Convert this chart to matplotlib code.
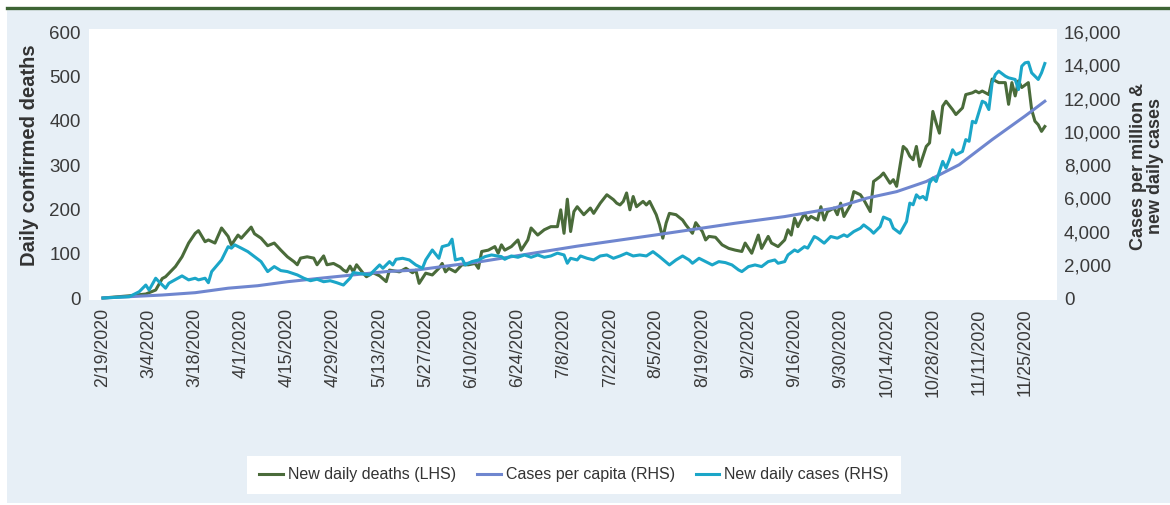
import datetime as dt
import matplotlib
matplotlib.use("Agg")
import matplotlib.pyplot as plt
from matplotlib.patches import Rectangle
from matplotlib.lines import Line2D
from matplotlib.ticker import FuncFormatter

plt.rcParams['font.family'] = ['Liberation Sans', 'DejaVu Sans']

start = dt.date(2020, 2, 19)

# days since 2/19/2020 and values
death_days = [0, 8, 13, 16, 18, 19, 22, 24, 26, 28, 29, 31, 32, 34, 36, 38, 39, 41, 42, 45,
              46, 48, 50, 52, 54, 56, 58, 59, 60, 62, 64, 65, 67, 68, 70, 72, 73, 74, 75, 76,
              77, 79, 80, 82, 84, 86, 87, 90, 92, 94, 95, 96, 98, 100, 102, 103, 104, 105, 107, 109,
              111, 113, 114, 115, 117, 119, 120, 121, 122, 124, 126, 127, 129, 130, 132, 134, 136, 138, 139, 140,
              141, 142, 143, 144, 146, 148, 149, 151, 153, 155, 156, 157, 158, 159, 160, 161, 162, 164, 165, 166,
              168, 169, 170, 171, 172, 174, 176, 177, 179, 180, 182, 183, 184, 186, 188, 190, 192, 194, 195, 197,
              199, 200, 202, 203, 205, 207, 208, 209, 210, 211, 213, 214, 215, 217, 218, 219, 220, 222, 223, 224,
              225, 227, 228, 230, 231, 233, 234, 236, 237, 239, 240, 241, 243, 244, 245, 246, 247, 248, 250, 251,
              252, 253, 254, 255, 256, 258, 259, 261, 262, 264, 265, 266, 267, 269, 270, 272, 274, 275, 276, 277,
              278, 279, 281, 282, 283, 284, 285, 286]
deaths = [0, 5, 9, 18, 44, 48, 71, 93, 124, 146, 152, 127, 131, 124, 158, 139, 120, 142, 135, 160,
          145, 135, 118, 124, 108, 93, 82, 75, 90, 93, 90, 75, 95, 75, 78, 70, 63, 59, 72, 59,
          75, 56, 48, 57, 50, 37, 63, 59, 67, 57, 63, 33, 56, 52, 67, 78, 59, 67, 59, 75,
          75, 78, 67, 105, 108, 116, 101, 120, 108, 116, 131, 108, 131, 158, 142, 154, 161, 161, 199, 146,
          223, 150, 195, 206, 188, 203, 191, 214, 233, 222, 214, 210, 218, 237, 199, 229, 206, 218, 210, 218,
          188, 165, 135, 169, 191, 188, 176, 165, 146, 170, 150, 131, 139, 137, 120, 112, 108, 105, 124, 101,
          142, 112, 139, 124, 116, 131, 154, 142, 180, 161, 191, 176, 184, 176, 206, 176, 195, 203, 188, 214,
          184, 210, 240, 233, 222, 195, 263, 274, 282, 259, 267, 252, 342, 335, 320, 312, 342, 297, 342, 350,
          421, 395, 372, 433, 444, 425, 414, 429, 459, 463, 467, 463, 467, 459, 494, 486, 486, 437, 486, 456,
          490, 475, 486, 425, 399, 391, 376, 387]

case_days = [0, 8, 11, 13, 14, 16, 17, 19, 20, 24, 26, 28, 29, 31, 32, 33, 36, 38, 39, 40,
             42, 44, 46, 48, 50, 52, 54, 56, 59, 61, 63, 65, 67, 69, 71, 73, 75, 76, 79, 81,
             83, 84, 85, 87, 88, 89, 91, 93, 95, 97, 98, 100, 102, 103, 105, 106, 107, 109, 110, 112,
             114, 116, 118, 121, 122, 124, 126, 128, 130, 132, 134, 136, 138, 140, 141, 142, 144, 145, 147, 149,
             151, 153, 155, 157, 159, 161, 163, 165, 167, 169, 172, 174, 176, 178, 179, 181, 183, 185, 187, 189,
             191, 193, 194, 196, 198, 200, 202, 204, 205, 207, 208, 210, 211, 213, 214, 216, 217, 219, 221, 223,
             225, 226, 228, 230, 231, 233, 234, 236, 237, 239, 240, 242, 244, 245, 246, 247, 248, 249, 250, 251,
             252, 253, 255, 256, 257, 258, 259, 261, 262, 263, 264, 265, 267, 268, 269, 270, 271, 272, 274, 275,
             277, 278, 279, 280, 281, 282, 284, 285, 286]
new_cases = [0, 80, 380, 780, 480, 1190, 980, 590, 890, 1330, 1090, 1190, 1090, 1190, 920, 1590, 2290, 3090, 3000, 3200,
             3000, 2790, 2490, 2190, 1590, 1890, 1650, 1590, 1390, 1190, 1040, 1130, 980, 1040, 920, 780, 1190, 1530, 1450, 1390,
             1790, 1990, 1790, 2190, 1990, 2330, 2390, 2290, 1990, 1790, 2290, 2890, 2390, 3090, 3200, 3540, 2290, 2390, 1990, 2190,
             2290, 2490, 2590, 2490, 2330, 2530, 2450, 2590, 2450, 2590, 2450, 2530, 2700, 2590, 2090, 2390, 2290, 2530, 2390, 2290,
             2530, 2590, 2390, 2530, 2700, 2530, 2590, 2530, 2790, 2490, 1990, 2290, 2530, 2290, 2090, 2390, 2190, 1990, 2190, 2130,
             1990, 1690, 1590, 1890, 1990, 1890, 2190, 2290, 2090, 2190, 2590, 2890, 2790, 3090, 3000, 3700, 3600, 3300, 3700, 3600,
             3800, 3700, 4000, 4200, 4400, 4100, 3900, 4300, 4870, 4700, 4200, 3900, 4600, 5710, 5610, 6210, 6010, 6110, 5910, 6920,
             7220, 7010, 8220, 7820, 8320, 8920, 8620, 8820, 9530, 9430, 10630, 10540, 11840, 11740, 11340, 12950, 13450, 13650, 13350, 13250,
             13150, 12540, 13950, 14150, 14190, 13550, 13150, 13550, 14110]

capita_days = [0, 18, 28, 38, 47, 56, 66, 76, 86, 95, 115, 144, 168, 192, 207, 222, 232, 241, 250, 260,
               270, 280, 286]
cases_per_capita = [0, 180, 320, 590, 740, 980, 1190, 1390, 1590, 1680, 2200, 3120, 3800, 4500, 4900, 5410, 6010, 6400, 7010, 8020,
                    9530, 10950, 11840]

tick_days = list(range(0, 281, 14))
tick_labels = []
for d in tick_days:
    t = start + dt.timedelta(days=d)
    tick_labels.append(f"{t.month}/{t.day}/{t.year}")

fig = plt.figure(figsize=(11.7, 5.05), dpi=100)
fig.patches.append(Rectangle((7 / 1170, 2 / 505), 1, 493 / 505, transform=fig.transFigure,
                             facecolor='#e7eff6', edgecolor='none', zorder=-5))
fig.add_artist(Line2D([7 / 1170, 1], [1 - 8 / 505, 1 - 8 / 505], color='#3d6434', lw=2.4))

ax = fig.add_axes([89 / 1170, 1 - 300 / 505, 968 / 1170, 271 / 505])
ax.set_facecolor('white')
ax.plot(death_days, deaths, color='#4a6b3a', lw=2.2, label='New daily deaths (LHS)')
ax.set_xlim(-4.25, 289.7)
ax.set_ylim(-4.5, 607)
ax.set_yticks(range(0, 601, 100))
ax.set_xticks(tick_days)
ax.set_xticklabels(tick_labels, rotation=90)
ax.tick_params(length=0, labelsize=13.5, colors='#3a3a3a')
ax.tick_params(axis='y', pad=6)
ax.tick_params(axis='x', pad=6, labelsize=12.8)

ax2 = ax.twinx()
ax2.plot(capita_days, cases_per_capita, color='#6f86cf', lw=2.2, label='Cases per capita (RHS)')
ax2.plot(case_days, new_cases, color='#1ba6c8', lw=2.2, label='New daily cases (RHS)')
ax2.set_ylim(-4.5 * 80 / 3, 607 * 80 / 3)
ax2.set_yticks(range(0, 16001, 2000))
ax2.yaxis.set_major_formatter(FuncFormatter(lambda v, p: f"{int(v):,}"))
ax2.tick_params(length=0, labelsize=13.5, colors='#3a3a3a', pad=5)

for a in (ax, ax2):
    for s in a.spines.values():
        s.set_visible(False)

fig.text(30 / 1170, 1 - 155 / 505, 'Daily confirmed deaths', rotation=90, ha='center', va='center',
         fontsize=14.5, fontweight='bold', color='#333333')
fig.text(1147 / 1170, 1 - 166 / 505, 'Cases per million &\nnew daily cases', rotation=90, ha='center',
         va='center', multialignment='center', fontsize=13, fontweight='bold', color='#333333', linespacing=1.0)

h1, l1 = ax.get_legend_handles_labels()
h2, l2 = ax2.get_legend_handles_labels()
leg = fig.legend(h1 + h2, l1 + l2, loc='center', bbox_to_anchor=(574 / 1170, 1 - 475 / 505), ncol=3,
                 fontsize=11.5, frameon=True, fancybox=False, framealpha=1, handlelength=1.5, handletextpad=0.3,
                 columnspacing=1.3, borderpad=0.75)
leg.get_frame().set_facecolor('white')
leg.get_frame().set_edgecolor('none')
for t in leg.get_texts():
    t.set_color('#333333')

fig.savefig('out.png', dpi=100)
